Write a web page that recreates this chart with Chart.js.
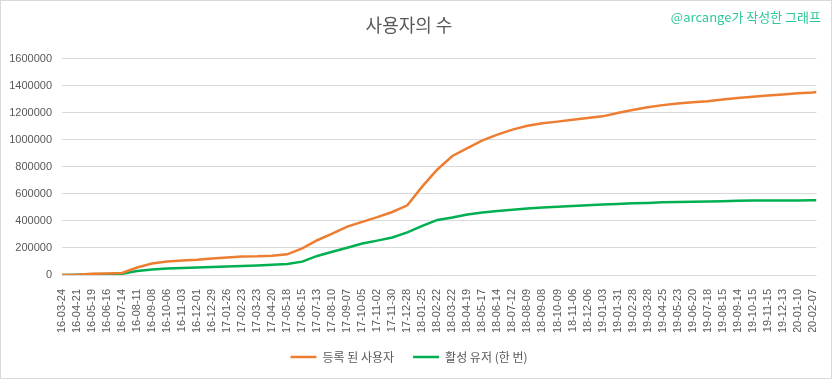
<!DOCTYPE html>
<html>
<head>
<meta charset="utf-8">
<script src="https://cdn.jsdelivr.net/npm/chart.js@4"></script>
<style>
  html, body { margin: 0; padding: 0; background: #fff; }
  #wrap { position: relative; width: 832px; height: 379px; }
  #frame { position: absolute; left: 0; top: 0; width: 830px; height: 377px; border: 1px solid #d9d9d9; pointer-events: none; }
  #mark { position: absolute; right: 11px; top: 8px; font-family: "Noto Sans CJK KR", "Noto Sans", sans-serif; font-size: 13px; color: #2fc89c; line-height: 18px; }
</style>
</head>
<body>
<div id="wrap">
  <canvas id="c" width="832" height="379"></canvas>
  <div id="frame"></div>
  <div id="mark">@arcange가 작성한 그래프</div>
</div>
<script>
// Tick labels (one every 28 rows of the data table)
const tickLabels = [
  "2016-03-24","2016-04-21","2016-05-19","2016-06-16","2016-07-14","2016-08-11","2016-09-08","2016-10-06","2016-11-03","2016-12-01","2016-12-29",
  "2017-01-26","2017-02-23","2017-03-23","2017-04-20","2017-05-18","2017-06-15","2017-07-13","2017-08-10","2017-09-07","2017-10-05","2017-11-02","2017-11-30","2017-12-28",
  "2018-01-25","2018-02-22","2018-03-22","2018-04-19","2018-05-17","2018-06-14","2018-07-12","2018-08-09","2018-09-08","2018-10-09","2018-11-06","2018-12-06",
  "2019-01-03","2019-01-31","2019-02-28","2019-03-28","2019-04-25","2019-05-23","2019-06-20","2019-07-18","2019-08-15","2019-09-14","2019-10-15","2019-11-15","2019-12-13",
  "2020-01-10","2020-02-07"
];
// Row index (position in the daily table) of each sampled value
const rowIndex = [0,28,56,84,112,140,168,196,224,252,280,308,336,364,392,420,448,476,504,532,560,588,616,644,672,700,728,756,784,812,840,868,896,924,952,980,1008,1036,1064,1092,1120,1148,1176,1204,1232,1260,1288,1316,1344,1372,1400,1407];
// 등록 된 사용자
const registered = [0,2000,10000,12000,15000,55000,85000,100000,107000,112000,122000,130000,137000,138000,143000,153000,197000,257000,306000,358000,393000,428000,466000,515000,655000,780000,880000,938000,995000,1038000,1075000,1104000,1122000,1134000,1148000,1160000,1173000,1198000,1220000,1240000,1256000,1268000,1277000,1285000,1297000,1308000,1318000,1327000,1335000,1343000,1350000,1353000];
// 활성 유저 (한 번)
const active = [0,2000,5000,7000,9000,30000,41000,48000,52000,55000,59000,63000,66000,70000,75000,81000,99000,141000,172000,202000,233000,254000,277000,315000,363000,407000,425000,447000,462000,474000,483000,492000,499000,505000,511000,516000,521000,525000,530000,533000,537000,539000,541000,543000,546000,549000,550000,550000,551000,551000,552000,552000];
const yTicks = [0,200000,400000,600000,800000,1000000,1200000,1400000,1600000];

const FONT = '"Noto Sans CJK KR", "Noto Sans", sans-serif';
const NUMFONT = '"Liberation Sans", Arial, sans-serif';
const TXT = '#595959';
const toPts = arr => arr.map((v, i) => ({ x: rowIndex[i], y: v }));

new Chart(document.getElementById('c'), {
  type: 'line',
  data: {
    datasets: [
      { label: '등록 된 사용자', data: toPts(registered), borderColor: '#ED7D31', backgroundColor: '#ED7D31', borderWidth: 2.5, pointRadius: 0, tension: 0 },
      { label: '활성 유저 (한 번)', data: toPts(active), borderColor: '#00B050', backgroundColor: '#00B050', borderWidth: 2.5, pointRadius: 0, tension: 0 }
    ]
  },
  options: {
    responsive: false,
    animation: false,
    events: [],
    layout: { padding: { left: 0, right: 14, top: 0, bottom: 6 } },
    plugins: {
      title: { display: true, text: '사용자의 수', color: TXT, font: { family: FONT, size: 18, weight: 'normal' }, padding: { top: 14, bottom: 23 } },
      legend: {
        position: 'bottom',
        labels: { color: TXT, font: { family: FONT, size: 12 }, usePointStyle: true, pointStyle: 'line', pointStyleWidth: 26, boxHeight: 12, padding: 19 }
      },
      tooltip: { enabled: false }
    },
    scales: {
      x: {
        type: 'linear',
        min: rowIndex[0],
        max: rowIndex[rowIndex.length - 1],
        grid: { display: false },
        border: { display: false },
        afterBuildTicks: s => { s.ticks = tickLabels.map((_, i) => ({ value: rowIndex[i] })); },
        afterFit: s => { s.height = 57; },
        ticks: {
          autoSkip: false, maxRotation: 90, minRotation: 90, padding: 6,
          color: TXT, font: { family: NUMFONT, size: 11 },
          callback: (v) => { const i = rowIndex.indexOf(v); return i >= 0 && i < tickLabels.length ? tickLabels[i] : ''; }
        }
      },
      y: {
        min: yTicks[0],
        max: yTicks[yTicks.length - 1],
        afterBuildTicks: s => { s.ticks = yTicks.map(v => ({ value: v })); },
        afterFit: s => { s.width = 62; },
        grid: { color: '#d9d9d9', lineWidth: 1, drawTicks: false },
        border: { display: false },
        ticks: { color: TXT, font: { family: NUMFONT, size: 11 }, padding: 10, callback: v => String(v) }
      }
    }
  }
});
</script>
</body>
</html>
